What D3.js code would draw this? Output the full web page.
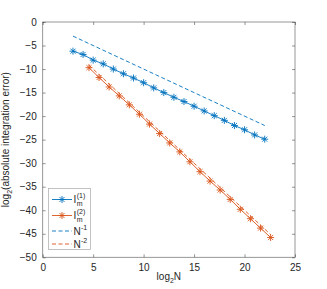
<!DOCTYPE html>
<html>
<head>
<meta charset="utf-8">
<script src="https://cdn.jsdelivr.net/npm/d3@7"></script>
<style>
  body { margin: 0; background: #fff; }
  text { font-family: "Liberation Sans", Arial, sans-serif; fill: #262626; }
</style>
</head>
<body>
<svg id="chart"></svg>
<script>
// log2 N for each method
const xMethod1 = [3, 4, 5, 6, 7, 8, 9, 10, 11, 12, 13, 14, 15, 16, 17, 18, 19, 20, 21, 22];
const errMethod1 = [-6.2, -6.9, -8.1, -8.9, -10.0, -11.0, -11.9, -12.9, -14.0, -15.0,
  -16.0, -16.9, -17.9, -18.9, -19.9, -20.9, -22.0, -22.9, -24.0, -24.9];

const xMethod2 = [4.585, 5.585, 6.585, 7.585, 8.585, 9.585, 10.585, 11.585, 12.585, 13.585,
  14.585, 15.585, 16.585, 17.585, 18.585, 19.585, 20.585, 21.585, 22.585];
const errMethod2 = [-9.7, -11.8, -13.8, -15.7, -17.6, -19.6, -21.7, -23.7, -25.7, -27.6,
  -29.7, -31.8, -33.8, -35.7, -37.7, -39.8, -41.8, -43.8, -45.8];

// reference slopes
const refN1 = [[3, -3], [22, -22]];
const refN2 = [[4.585, -9.17], [22.585, -45.17]];

const xTicks = [0, 5, 10, 15, 20, 25];
const yTicks = [0, -5, -10, -15, -20, -25, -30, -35, -40, -45, -50];

const width = 327;
const height = 289;
const plotLeft = 42.7, plotRight = 295, plotTop = 22, plotBottom = 257.3;
const blue = '#0072BD';
const orange = '#D95319';
const axisColor = '#262626';

const svg = d3.select('#chart')
  .attr('width', width)
  .attr('height', height);

const x = d3.scaleLinear().domain([0, 25]).range([plotLeft, plotRight]);
const y = d3.scaleLinear().domain([-50, 0]).range([plotBottom, plotTop]);

// axes box
svg.append('rect')
  .attr('x', plotLeft).attr('y', plotTop)
  .attr('width', plotRight - plotLeft).attr('height', plotBottom - plotTop)
  .attr('fill', 'none')
  .attr('stroke', axisColor)
  .attr('stroke-opacity', 0.6)
  .attr('stroke-width', 0.8);

const tickLen = 3;

const xAxis = svg.append('g').attr('transform', `translate(0,${plotBottom})`)
  .call(d3.axisBottom(x).tickValues(xTicks).tickSizeInner(-tickLen).tickSizeOuter(0).tickPadding(7));
const xAxisTop = svg.append('g').attr('transform', `translate(0,${plotTop})`)
  .call(d3.axisTop(x).tickValues(xTicks).tickSizeInner(-tickLen).tickSizeOuter(0).tickFormat(''));
const yAxis = svg.append('g').attr('transform', `translate(${plotLeft},0)`)
  .call(d3.axisLeft(y).tickValues(yTicks).tickSizeInner(-tickLen).tickSizeOuter(0).tickPadding(6));
const yAxisRight = svg.append('g').attr('transform', `translate(${plotRight},0)`)
  .call(d3.axisRight(y).tickValues(yTicks).tickSizeInner(-tickLen).tickSizeOuter(0).tickFormat(''));

[xAxis, xAxisTop, yAxis, yAxisRight].forEach(g => {
  g.select('.domain').remove();
  g.selectAll('line').attr('stroke', axisColor).attr('stroke-opacity', 0.6).attr('stroke-width', 0.8);
  g.selectAll('text')
    .attr('font-family', '"Liberation Sans", Arial, sans-serif')
    .attr('font-size', 10)
    .attr('fill', axisColor);
});

// axis labels
const yLabel = svg.append('text')
  .attr('transform', `translate(9,${(plotTop + plotBottom) / 2}) rotate(-90)`)
  .attr('text-anchor', 'middle')
  .attr('font-size', 10);
yLabel.append('tspan').text('log');
yLabel.append('tspan').attr('font-size', 7).attr('dy', 3).text('2');
yLabel.append('tspan').attr('dy', -3).text('(absolute integration error)');

const xLabel = svg.append('text')
  .attr('x', (plotLeft + plotRight) / 2)
  .attr('y', 280)
  .attr('text-anchor', 'middle')
  .attr('font-size', 10);
xLabel.append('tspan').text('log');
xLabel.append('tspan').attr('font-size', 7).attr('dy', 3).text('2');
xLabel.append('tspan').attr('dy', -3).text('N');

const line = d3.line().x(d => x(d[0])).y(d => y(d[1]));

const asterisk = (cx, cy, r) => {
  const d = r * 0.72;
  return `M${cx - r},${cy}L${cx + r},${cy}M${cx},${cy - r}L${cx},${cy + r}` +
    `M${cx - d},${cy - d}L${cx + d},${cy + d}M${cx - d},${cy + d}L${cx + d},${cy - d}`;
};

const series = [
  { xs: xMethod1, ys: errMethod1, color: blue },
  { xs: xMethod2, ys: errMethod2, color: orange },
];

series.forEach(s => {
  const pts = s.xs.map((v, i) => [v, s.ys[i]]);
  svg.append('path')
    .datum(pts)
    .attr('d', line)
    .attr('fill', 'none')
    .attr('stroke', s.color)
    .attr('stroke-width', 0.9);
  svg.append('g').selectAll('path')
    .data(pts)
    .enter().append('path')
    .attr('d', d => asterisk(x(d[0]), y(d[1]), 3.5))
    .attr('stroke', s.color)
    .attr('stroke-width', 0.9)
    .attr('fill', 'none');
});

[[refN1, blue], [refN2, orange]].forEach(([pts, color]) => {
  svg.append('path')
    .datum(pts)
    .attr('d', line)
    .attr('fill', 'none')
    .attr('stroke', color)
    .attr('stroke-width', 0.9)
    .attr('stroke-dasharray', '4,2.5');
});

// legend
const legend = svg.append('g');
legend.append('rect')
  .attr('x', 48.5).attr('y', 188.5)
  .attr('width', 42).attr('height', 61)
  .attr('fill', '#fff')
  .attr('stroke', axisColor)
  .attr('stroke-opacity', 0.35)
  .attr('stroke-width', 0.8);

const legendItems = [
  { color: blue, dash: null, marker: true, base: 'I', sub: 'm', sup: '(1)', ly: 199.5 },
  { color: orange, dash: null, marker: true, base: 'I', sub: 'm', sup: '(2)', ly: 215.5 },
  { color: blue, dash: '4,2.5', marker: false, base: 'N', sub: null, sup: '-1', ly: 231 },
  { color: orange, dash: '4,2.5', marker: false, base: 'N', sub: null, sup: '-2', ly: 244 },
];

legendItems.forEach(it => {
  legend.append('line')
    .attr('x1', 52).attr('x2', 72)
    .attr('y1', it.ly).attr('y2', it.ly)
    .attr('stroke', it.color)
    .attr('stroke-width', 0.9)
    .attr('stroke-dasharray', it.dash);
  if (it.marker) {
    legend.append('path')
      .attr('d', asterisk(62, it.ly, 3.5))
      .attr('stroke', it.color)
      .attr('stroke-width', 0.9)
      .attr('fill', 'none');
  }
  const tx = 73.5;
  const base = it.ly + 3.5;
  legend.append('text')
    .attr('x', tx).attr('y', base)
    .attr('font-size', 10)
    .text(it.base);
  const bw = it.base === 'I' ? 3.2 : 7.4;
  legend.append('text')
    .attr('x', tx + bw).attr('y', base - 5)
    .attr('font-size', 7)
    .text(it.sup);
  if (it.sub) {
    legend.append('text')
      .attr('x', tx + bw).attr('y', base + 2.5)
      .attr('font-size', 7)
      .text(it.sub);
  }
});
</script>
</body>
</html>
